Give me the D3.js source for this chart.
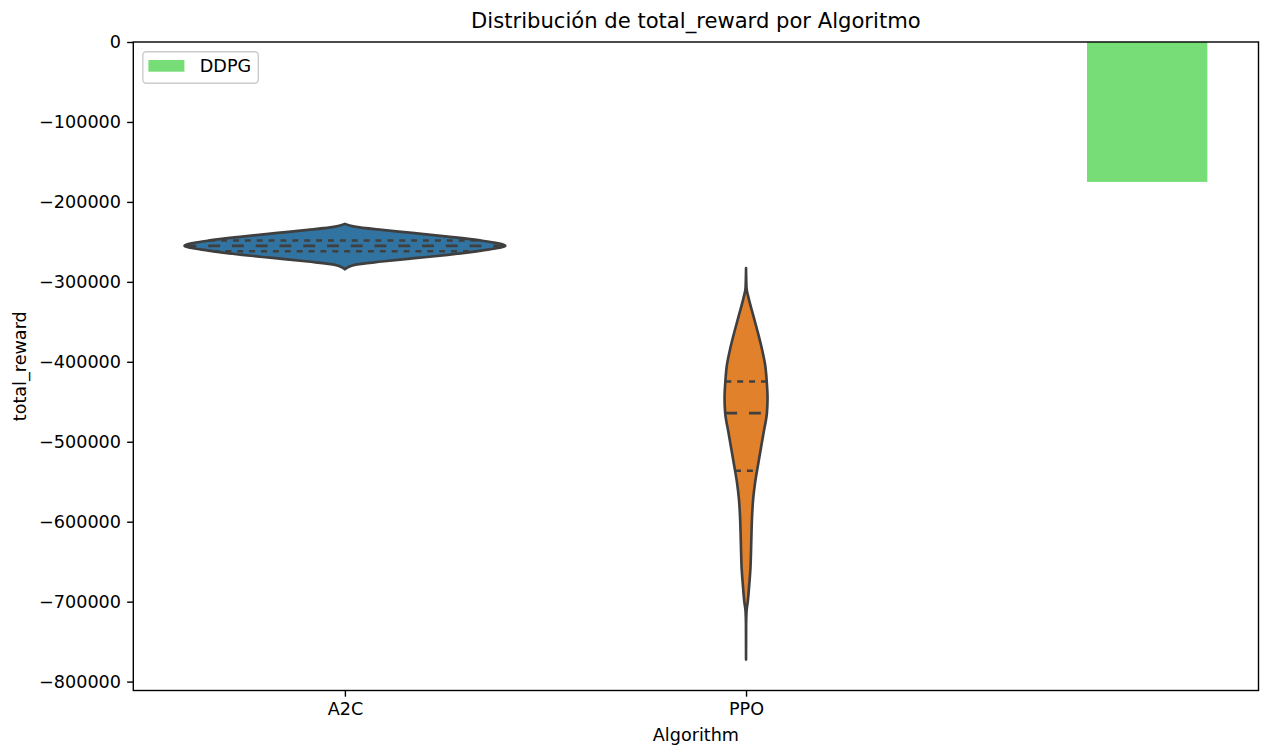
<!DOCTYPE html>
<html>
<head>
<meta charset="utf-8">
<script src="https://cdn.jsdelivr.net/npm/d3@7"></script>
<style>
  body { margin: 0; background: #ffffff; }
  svg { display: block; }
  text { font-family: "DejaVu Sans", "Liberation Sans", sans-serif; fill: #000; }
</style>
</head>
<body>
<svg id="chart" width="1262" height="748"></svg>
<script>
// ---- data -------------------------------------------------------------
const violinCategories = ["A2C", "PPO"];
const barCategory = "DDPG";
const barValue = -175000;

// Density profiles (reward level -> relative kernel density)
const a2cLevels  = [-227500, -230900, -235000, -239100, -243400, -248400, -255000,
                    -260900, -266300, -270400, -274600, -278800, -284400];
const a2cDensity = [0, 0.06, 0.23, 0.435, 0.64, 0.85, 1.0,
                    0.85, 0.64, 0.435, 0.23, 0.06, 0];
const a2cQuartiles = [-248300, -255000, -261700];

const ppoLevels  = [-282900, -307500, -320400, -341250, -362100, -382900, -403750,
                    -424600, -445400, -464100, -489100, -510000, -530900, -551600,
                    -572500, -593400, -614100, -637100, -658000, -678750, -699600,
                    -712100, -729000, -772500];
const ppoDensity = [0, 0.003, 0.016, 0.044, 0.072, 0.098, 0.119,
                    0.129, 0.134, 0.130, 0.109, 0.091, 0.073, 0.056,
                    0.044, 0.0375, 0.034, 0.031, 0.0275, 0.02, 0.011,
                    0.003, 0.0006, 0];
const ppoQuartiles = [-424600, -464200, -536300];

const yTicks = [0, -100000, -200000, -300000, -400000, -500000, -600000, -700000, -800000];

const titleText = "Distribución de total_reward por Algoritmo";
const xLabelText = "Algorithm";
const yLabelText = "total_reward";

// ---- layout -----------------------------------------------------------
const W = 1262, H = 748;
const margin = { left: 133.3, right: 3.5, top: 42, bottom: 57.5 };
const plotW = W - margin.left - margin.right;
const plotH = H - margin.top - margin.bottom;
const pt = 1.76;                // px per point
const fontSize = 10 * pt;
const titleSize = 12 * pt;
const lw = 1.5 * pt;
const spineW = 0.8 * pt;
const lineColor = "#3f3f3f";
const fills = ["#3274a1", "#e1812c"];
const barColor = "#77dd77";

const violins = [
  { name: violinCategories[0], levels: a2cLevels, density: a2cDensity, quart: a2cQuartiles, fill: fills[0] },
  { name: violinCategories[1], levels: ppoLevels, density: ppoDensity, quart: ppoQuartiles, fill: fills[1] }
];

// axis limits: 5% margins around the drawn data
const dataMin = d3.min(violins, v => d3.min(v.levels));
const dataMax = 0;
const yMin = dataMin - 0.05 * (dataMax - dataMin);
const halfViolin = 0.4, halfBar = 0.15;
const xLo = -halfViolin, xHi = 2 + halfBar;
const xPad = 0.05 * (xHi - xLo);

const x = d3.scaleLinear().domain([xLo - xPad, xHi + xPad]).range([0, plotW]);
const y = d3.scaleLinear().domain([yMin, dataMax]).range([plotH, 0]);
const maxDensity = d3.max(violins, v => d3.max(v.density));
const wScale = d3.scaleLinear().domain([0, maxDensity]).range([0, halfViolin]);

const svg = d3.select("#chart");
const g = svg.append("g").attr("transform", `translate(${margin.left},${margin.top})`);

// ---- violins ----------------------------------------------------------
violins.forEach((v, i) => {
  const pts = v.levels.map((lv, k) => ({ lv, d: v.density[k] }));
  const area = d3.area()
    .y(p => y(p.lv))
    .x0(p => x(i - wScale(p.d)))
    .x1(p => x(i + wScale(p.d)))
    .curve(d3.curveMonotoneY);
  g.append("path")
    .attr("d", area(pts))
    .attr("fill", v.fill)
    .attr("stroke", lineColor)
    .attr("stroke-width", lw)
    .attr("stroke-linejoin", "round");

  // quartile lines span the violin width at each level
  const densAt = d3.scaleLinear().domain(v.levels).range(v.density);
  v.quart.forEach((q, k) => {
    const hw = wScale(densAt(q));
    const dash = k === 1 ? [lw * 4.5, lw * 4.5] : [lw * 2.25, lw * 2.25];
    g.append("line")
      .attr("x1", x(i - hw)).attr("x2", x(i + hw))
      .attr("y1", y(q)).attr("y2", y(q))
      .attr("stroke", lineColor)
      .attr("stroke-width", lw)
      .attr("stroke-dasharray", dash.join(","));
  });
});

// ---- bar --------------------------------------------------------------
g.append("rect")
  .attr("x", x(2 - halfBar))
  .attr("width", x(2 + halfBar) - x(2 - halfBar))
  .attr("y", y(0))
  .attr("height", y(barValue) - y(0))
  .attr("fill", barColor);

// ---- axes -------------------------------------------------------------
const tickLen = 3.5 * pt, tickPad = 3.5 * pt;
const yAxis = d3.axisLeft(y)
  .tickValues(yTicks)
  .tickFormat(d => d === 0 ? "0" : "\u2212" + Math.abs(d))
  .tickSize(tickLen).tickPadding(tickPad).tickSizeOuter(0);
const yG = g.append("g").call(yAxis);
yG.select(".domain").remove();
yG.selectAll(".tick line").attr("stroke", "#000").attr("stroke-width", spineW);
yG.selectAll(".tick text").attr("font-size", fontSize).attr("font-family", "DejaVu Sans").attr("fill", "#000");

const xAxis = d3.axisBottom(x)
  .tickValues([0, 1])
  .tickFormat(d => violinCategories[d])
  .tickSize(tickLen).tickPadding(tickPad).tickSizeOuter(0);
const xG = g.append("g").attr("transform", `translate(0,${plotH})`).call(xAxis);
xG.select(".domain").remove();
xG.selectAll(".tick line").attr("stroke", "#000").attr("stroke-width", spineW);
xG.selectAll(".tick text").attr("font-size", fontSize).attr("font-family", "DejaVu Sans").attr("fill", "#000");

// frame
g.append("rect")
  .attr("x", 0).attr("y", 0).attr("width", plotW).attr("height", plotH)
  .attr("fill", "none").attr("stroke", "#000").attr("stroke-width", spineW);

// ---- legend -----------------------------------------------------------
const leg = g.append("g").attr("transform", "translate(9.5,9.7)");
leg.append("rect")
  .attr("x", 0).attr("y", 0).attr("width", 115.5).attr("height", 31.6)
  .attr("rx", 3.5).attr("fill", "#fff").attr("fill-opacity", 0.8)
  .attr("stroke", "#cccccc").attr("stroke-width", spineW);
leg.append("rect")
  .attr("x", 5.6).attr("y", 8.3).attr("width", 36).attr("height", 11.7)
  .attr("fill", barColor);
leg.append("text")
  .attr("x", 57).attr("y", 20.5)
  .attr("font-size", fontSize)
  .text(barCategory);

// ---- titles -----------------------------------------------------------
svg.append("text")
  .attr("x", margin.left + plotW / 2).attr("y", 28.3)
  .attr("text-anchor", "middle").attr("font-size", titleSize)
  .text(titleText);
svg.append("text")
  .attr("x", margin.left + plotW / 2).attr("y", 740.5)
  .attr("text-anchor", "middle").attr("font-size", fontSize)
  .text(xLabelText);
svg.append("text")
  .attr("transform", `translate(26.3,${margin.top + plotH / 2}) rotate(-90)`)
  .attr("text-anchor", "middle").attr("font-size", fontSize)
  .text(yLabelText);
</script>
</body>
</html>
